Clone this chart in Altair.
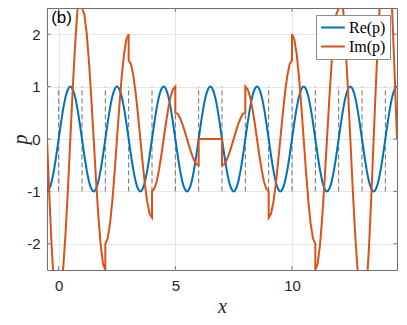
import altair as alt
import pandas as pd

# ---------------- data ----------------
# Re(p), sampled every 0.1 from x = -0.5 to x = 14.5
re_x0 = -0.5
re_dx = 0.1
re_vals = [
    -1, -0.95, -0.81, -0.59, -0.31, 0, 0.31, 0.59, 0.81, 0.95, 1, 0.95, 0.81, 0.59, 0.31, 0, -0.31, -0.59, -0.81, -0.95,
    -1, -0.95, -0.81, -0.59, -0.31, 0, 0.31, 0.59, 0.81, 0.95, 1, 0.95, 0.81, 0.59, 0.31, 0, -0.31, -0.59, -0.81, -0.95,
    -1, -0.95, -0.81, -0.59, -0.31, 0, 0.31, 0.59, 0.81, 0.95, 1, 0.95, 0.81, 0.59, 0.31, 0, -0.31, -0.59, -0.81, -0.95,
    -1, -0.95, -0.81, -0.59, -0.31, 0, 0.31, 0.59, 0.81, 0.95, 1, 0.95, 0.81, 0.59, 0.31, 0, -0.31, -0.59, -0.81, -0.95,
    -1, -0.95, -0.81, -0.59, -0.31, 0, 0.31, 0.59, 0.81, 0.95, 1, 0.95, 0.81, 0.59, 0.31, 0, -0.31, -0.59, -0.81, -0.95,
    -1, -0.95, -0.81, -0.59, -0.31, 0, 0.31, 0.59, 0.81, 0.95, 1, 0.95, 0.81, 0.59, 0.31, 0, -0.31, -0.59, -0.81, -0.95,
    -1, -0.95, -0.81, -0.59, -0.31, 0, 0.31, 0.59, 0.81, 0.95, 1, 0.95, 0.81, 0.59, 0.31, 0, -0.31, -0.59, -0.81, -0.95,
    -1, -0.95, -0.81, -0.59, -0.31, 0, 0.31, 0.59, 0.81, 0.95, 1,
]

# Im(p): one piece per unit interval (jumps at the integers), sampled every 0.1
im_dx = 0.1
im_starts = [-0.5, 0, 1, 2, 3, 4, 5, 6, 7, 8, 9, 10, 11, 12, 13, 14]
im_vals = [
    [0, -1.08, -2.06, -2.83, -3.33, -3.5],
    [-3, -2.85, -2.43, -1.76, -0.93, 0, 0.93, 1.76, 2.43, 2.85, 3],
    [2.5, 2.38, 2.02, 1.47, 0.77, 0, -0.77, -1.47, -2.02, -2.38, -2.5],
    [-2, -1.9, -1.62, -1.18, -0.62, 0, 0.62, 1.18, 1.62, 1.9, 2],
    [1.5, 1.43, 1.21, 0.88, 0.46, 0, -0.46, -0.88, -1.21, -1.43, -1.5],
    [-1, -0.95, -0.81, -0.59, -0.31, 0, 0.31, 0.59, 0.81, 0.95, 1],
    [0.5, 0.48, 0.4, 0.29, 0.15, 0, -0.15, -0.29, -0.4, -0.48, -0.5],
    [0, 0, 0, 0, 0, 0, 0, 0, 0, 0, 0],
    [-0.5, -0.48, -0.4, -0.29, -0.15, 0, 0.15, 0.29, 0.4, 0.48, 0.5],
    [1, 0.95, 0.81, 0.59, 0.31, 0, -0.31, -0.59, -0.81, -0.95, -1],
    [-1.5, -1.43, -1.21, -0.88, -0.46, 0, 0.46, 0.88, 1.21, 1.43, 1.5],
    [2, 1.9, 1.62, 1.18, 0.62, 0, -0.62, -1.18, -1.62, -1.9, -2],
    [-2.5, -2.38, -2.02, -1.47, -0.77, 0, 0.77, 1.47, 2.02, 2.38, 2.5],
    [3, 2.85, 2.43, 1.76, 0.93, 0, -0.93, -1.76, -2.43, -2.85, -3],
    [-3.5, -3.33, -2.83, -2.06, -1.08, 0, 1.08, 2.06, 2.83, 3.33, 3.5],
    [4, 3.8, 3.24, 2.35, 1.24, 0],
]

# vertical dashed markers
dash_x = [0, 1, 2, 3, 4, 5, 6, 7, 8, 9, 10, 11, 12, 13, 14]
dash_lo = -1
dash_hi = 1

x_ticks = [0, 5, 10]
y_ticks = [-2, -1, 0, 1, 2]
x_domain = [-0.5, 14.5]
y_domain = [-2.5, 2.5]

series_names = ["Re(p)", "Im(p)"]
series_colors = ["#0072BD", "#D95319"]

panel_label = ["(b)"]
panel_label_x = [-0.32]
panel_label_y = [2.46]

# inward tick length (style), in data units of each axis
tick_len_y = 0.07
tick_len_x = 0.15

# ---------------- tables ----------------
df_re = pd.DataFrame({
    "x": [round(re_x0 + i * re_dx, 3) for i in range(len(re_vals))],
    "y": re_vals,
    "series": series_names[0],
    "order": list(range(len(re_vals))),
})

rows = []
k = 0
for s, vals in zip(im_starts, im_vals):
    for j, v in enumerate(vals):
        rows.append({"x": round(s + j * im_dx, 3), "y": v, "series": series_names[1], "order": k})
        k += 1
df_im = pd.DataFrame(rows)

df_dash = pd.DataFrame({"x": dash_x, "lo": dash_lo, "hi": dash_hi})
df_text = pd.DataFrame({"x": panel_label_x, "y": panel_label_y, "t": panel_label})

xt_rows = []
for t in x_ticks:
    xt_rows.append({"x": t, "y1": y_domain[0], "y2": y_domain[0] + tick_len_y})
    xt_rows.append({"x": t, "y1": y_domain[1] - tick_len_y, "y2": y_domain[1]})
df_xt = pd.DataFrame(xt_rows)
yt_rows = []
for t in y_ticks:
    yt_rows.append({"y": t, "x1": x_domain[0], "x2": x_domain[0] + tick_len_x})
    yt_rows.append({"y": t, "x1": x_domain[1] - tick_len_x, "x2": x_domain[1]})
df_yt = pd.DataFrame(yt_rows)

# ---------------- encodings ----------------
xscale = alt.Scale(domain=x_domain, nice=False, zero=False)
yscale = alt.Scale(domain=y_domain, nice=False, zero=False)

x_axis = alt.Axis(values=x_ticks, title="x", labelPadding=8, titlePadding=3)
y_axis = alt.Axis(values=y_ticks, title="p", labelPadding=7, titlePadding=-4,
                  labelExpr="'' + datum.value")

X = alt.X("x:Q", scale=xscale, axis=x_axis)
Y = alt.Y("y:Q", scale=yscale, axis=y_axis)

color = alt.Color(
    "series:N",
    scale=alt.Scale(domain=series_names, range=series_colors),
    legend=alt.Legend(
        title=None, orient="top-right", offset=7,
        fillColor="white", strokeColor="#8c8c8c", padding=4,
        symbolType="stroke", symbolStrokeWidth=2, symbolSize=560,
        clipHeight=17,
        labelFont="Liberation Serif", labelFontSize=16, labelColor="black",
        labelOffset=3, rowPadding=2,
    ),
)

dash = alt.Chart(df_dash).mark_rule(
    strokeDash=[5, 3], color="#6b6b6b", strokeWidth=1
).encode(
    x=alt.X("x:Q", scale=xscale, axis=x_axis),
    y=alt.Y("lo:Q", scale=yscale, axis=y_axis),
    y2="hi:Q",
)

xticks_in = alt.Chart(df_xt).mark_rule(color="#6e6e6e", strokeWidth=1).encode(
    x=alt.X("x:Q", scale=xscale, axis=x_axis),
    y=alt.Y("y1:Q", scale=yscale, axis=y_axis),
    y2="y2:Q",
)
yticks_in = alt.Chart(df_yt).mark_rule(color="#6e6e6e", strokeWidth=1).encode(
    x=alt.X("x1:Q", scale=xscale, axis=x_axis),
    x2="x2:Q",
    y=alt.Y("y:Q", scale=yscale, axis=y_axis),
)

re_line = alt.Chart(df_re).mark_line(clip=True, strokeWidth=2, interpolate="monotone").encode(
    x=X, y=Y, color=color, order="order:Q"
)
im_line = alt.Chart(df_im).mark_line(clip=True, strokeWidth=2).encode(
    x=X, y=Y, color=color, order="order:Q"
)

label = alt.Chart(df_text).mark_text(
    align="left", baseline="top", font="Liberation Sans", fontSize=17, color="black"
).encode(x=X, y=Y, text="t:N")

chart = alt.layer(dash, xticks_in, yticks_in, re_line, im_line, label).properties(
    width=350, height=262,
    autosize=alt.AutoSizeParams(type="none"),
    padding={"left": 39, "top": 0, "right": 2, "bottom": 48},
).configure_view(
    stroke="#6e6e6e", strokeWidth=1
).configure_axis(
    grid=True, gridColor="#e6e6e6", gridWidth=1,
    domain=False, ticks=False, tickSize=0,
    labelFont="Liberation Sans", labelFontSize=15, labelColor="#262626",
    titleFont="Liberation Serif", titleFontStyle="italic", titleFontWeight="normal",
    titleFontSize=20, titleColor="#262626",
)

chart.save("out.html", embed_options={"renderer": "svg", "actions": False})
